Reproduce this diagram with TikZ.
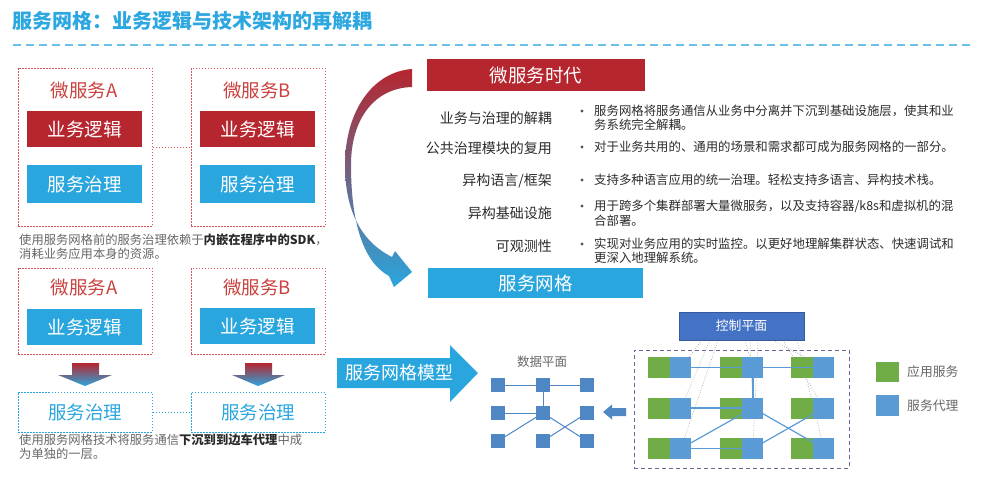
\documentclass[tikz,border=0pt]{standalone}
\usepackage{fontspec}
\setmainfont{Noto Sans CJK SC}
\usepackage{xcolor}
\usepackage{tikz}
\usetikzlibrary{positioning, backgrounds, arrows.meta}
\definecolor{meshred}{HTML}{B5262F}
\definecolor{meshblue}{HTML}{2AA6DE}
\definecolor{meshpurple}{HTML}{7A3A70}
\definecolor{meshtitle}{HTML}{2CA7E0}
\definecolor{meshredtext}{HTML}{C9413E}
\definecolor{meshframe}{HTML}{D4555B}
\definecolor{meshgreen}{HTML}{70AD47}
\definecolor{meshproxy}{HTML}{5B9BD5}
\definecolor{meshctrl}{HTML}{4472C4}
\definecolor{meshsquare}{HTML}{4F86C4}
\definecolor{meshgray}{HTML}{666666}
\definecolor{meshdark}{HTML}{2B2B2B}
\newcommand{\capbold}[1]{{\bfseries\color{meshdark}#1}}

\begin{document}
\begin{tikzpicture}[x=1pt, y=-1pt,
  svcframe/.style={rectangle, draw=meshframe, line width=1pt, dash pattern=on 1.5pt off 1.5pt, inner sep=0pt, minimum width=134, font=\fontsize{18.5}{22}\selectfont, text=meshredtext},
  logicbox/.style={rectangle, fill=meshred, text=white, minimum width=115, minimum height=36, inner sep=0pt, font=\fontsize{18.5}{22}\selectfont},
  govbox/.style={rectangle, fill=meshblue, text=white, minimum width=115, minimum height=38, inner sep=0pt, font=\fontsize{18.5}{22}\selectfont},
  govdash/.style={rectangle, draw=meshblue, line width=1pt, dash pattern=on 1.5pt off 1.5pt, text=meshblue, minimum width=134, minimum height=40, inner sep=0pt, font=\fontsize{18.5}{22}\selectfont},
  caption/.style={anchor=west, align=left, inner sep=0pt, text=meshgray, font=\fontsize{12.3}{13.5}\selectfont},
  band/.style={rectangle, text=white, minimum width=217, minimum height=31, inner sep=0pt, font=\fontsize{18.5}{22}\selectfont},
  aspect/.style={anchor=east, inner sep=0pt, text=meshdark, font=\fontsize{14}{16}\selectfont},
  bulletdot/.style={circle, fill=meshdark!80, minimum size=3.2, inner sep=0pt},
  bullettext/.style={anchor=west, align=left, inner sep=0pt, text=meshdark, font=\fontsize{12.4}{14.5}\selectfont},
  dpsq/.style={rectangle, fill=meshsquare, minimum size=13.5, inner sep=0pt},
  dpline/.style={meshsquare, line width=1pt},
  appbox/.style={rectangle, fill=meshgreen, minimum width=22, minimum height=21, inner sep=0pt},
  proxybox/.style={rectangle, fill=meshproxy, minimum width=21, minimum height=21, inner sep=0pt},
  meshline/.style={meshproxy, line width=1.2pt},
  ctrlline/.style={gray!70, line width=0.5pt, dash pattern=on 1pt off 1.5pt},
  legtext/.style={inner sep=0pt, text=meshgray, font=\fontsize{12.8}{15}\selectfont}
]
\useasboundingbox (0,0) rectangle (981,485);

% title
\node[anchor=west, inner sep=0pt, text=meshtitle, font=\fontsize{20}{24}\selectfont\bfseries] (title) at (12,21) {服务网格：业务逻辑与技术架构的再解耦};
\draw[meshtitle!70, line width=2pt, dash pattern=on 8pt off 5pt] (13,45) -- (970,45);

% before service mesh
\node[svcframe, minimum height=158] (fA) at (85,147) {};
\node[svcframe, minimum height=158] (fB) at (258,147) {};
\node[text=meshredtext, font=\fontsize{18.5}{22}\selectfont, inner sep=0pt] (nA) at (84,90) {微服务A};
\node[text=meshredtext, font=\fontsize{18.5}{22}\selectfont, inner sep=0pt] (nB) at (257,90) {微服务B};
\node[logicbox] (logA) at (84.5,129) {业务逻辑};
\node[logicbox] (logB) at (257.5,129) {业务逻辑};
\node[govbox] (govA) at (84.5,184) {服务治理};
\node[govbox] (govB) at (257.5,184) {服务治理};
\draw[meshframe, line width=1pt, dash pattern=on 1.5pt off 1.5pt] (logA.south -| fA.east) -- (logA.south -| fB.west);
\node[caption] (capA) at (19,246.5) {使用服务网格前的服务治理依赖于\capbold{内嵌在程序中的SDK}，\\消耗业务应用本身的资源。};

% with service mesh
\node[svcframe, minimum height=86] (fA2) at (85,311) {};
\node[svcframe, minimum height=86] (fB2) at (258,311) {};
\node[text=meshredtext, font=\fontsize{18.5}{22}\selectfont, inner sep=0pt] (nA2) at (84,287) {微服务A};
\node[text=meshredtext, font=\fontsize{18.5}{22}\selectfont, inner sep=0pt] (nB2) at (257,287) {微服务B};
\node[govbox, minimum height=36] (logA2) at (84.5,327) {业务逻辑};
\node[govbox, minimum height=36] (logB2) at (257.5,326) {业务逻辑};
\shade[top color=meshred, middle color=meshred!40!meshblue, bottom color=meshblue] (72,363) -- (99,363) -- (99,375) -- (112,375) -- (85,386) -- (58,375) -- (72,375) -- cycle;
\shade[top color=meshred, middle color=meshred!40!meshblue, bottom color=meshblue] (245,363) -- (272,363) -- (272,375) -- (285,375) -- (258,386) -- (232,375) -- (245,375) -- cycle;
\node[govdash] (gA2) at (85,412) {服务治理};
\node[govdash] (gB2) at (258,412) {服务治理};
\draw[meshblue, line width=1pt, dash pattern=on 1.5pt off 1.5pt] (gA2) -- (gB2);
\node[caption] (capB) at (19,446.5) {使用服务网格技术将服务通信\capbold{下沉到到边车代理}中成\\为单独的一层。};

% from microservices to service mesh
\node[band, fill=meshred, minimum width=218, minimum height=32] (era) at (536,75) {微服务时代};
\node[band, fill=meshblue, minimum width=215, minimum height=30] (meshband) at (535.5,283) {服务网格};
\shade[top color=meshred, middle color=meshpurple, bottom color=meshblue]
  (412,69) .. controls (372,72) and (345,112) .. (345,165)
  .. controls (345,212) and (362,242) .. (392,257)
  -- (395,251) -- (412,272) -- (394,287) -- (389,276)
  .. controls (363,262) and (351,222) .. (351,165)
  .. controls (351,118) and (375,88) .. (412,87) -- cycle;

\node[aspect] (s1) at (552,118) {业务与治理的解耦};
\node[aspect] (s2) at (552,148) {公共治理模块的复用};
\node[aspect] (s3) at (552,181) {异构语言/框架};
\node[aspect] (s4) at (552,213) {异构基础设施};
\node[aspect] (s5) at (552,246) {可观测性};
\node[bulletdot] (b1) at (582,111) {};
\node[bulletdot] (b2) at (582,147) {};
\node[bulletdot] (b3) at (582,180) {};
\node[bulletdot] (b4) at (582,206) {};
\node[bulletdot] (b5) at (582,244) {};
\node[bullettext] (t1) at (594,118) {服务网格将服务通信从业务中分离并下沉到基础设施层，使其和业\\务系统完全解耦。};
\node[bullettext] (t2) at (594,147) {对于业务共用的、通用的场景和需求都可成为服务网格的一部分。};
\node[bullettext] (t3) at (594,180) {支持多种语言应用的统一治理。轻松支持多语言、异构技术栈。};
\node[bullettext] (t4) at (594,213) {用于跨多个集群部署大量微服务，以及支持容器/k8s和虚拟机的混\\合部署。};
\node[bullettext] (t5) at (594,251) {实现对业务应用的实时监控。以更好地理解集群状态、快速调试和\\更深入地理解系统。};

% service mesh model
\fill[meshblue] (337,358) -- (450,358) -- (450,345) -- (478,373) -- (450,402) -- (450,388) -- (337,388) -- cycle;
\node[text=white, inner sep=0pt, font=\fontsize{18}{22}\selectfont] (model) at (399,373) {服务网格模型};

% data plane
\node[inner sep=0pt, text=meshgray, font=\fontsize{12.5}{15}\selectfont] (dplabel) at (542,362) {数据平面};
\foreach \r/\y in {1/385,2/413,3/441}
  \foreach \c/\x in {1/498,2/543,3/587}
    \node[dpsq] (d\r\c) at (\x,\y) {};
\foreach \u/\v in {11/12,12/13,12/22,21/22,31/22,22/33,32/23}
  \draw[dpline] (d\u) -- (d\v);
\fill[meshsquare] (626,408) -- (612,408) -- (612,404.5) -- (603,412) -- (612,419.5) -- (612,416) -- (626,416) -- cycle;

% control plane and sidecars
\node[rectangle, draw=meshctrl!80!black, fill=meshctrl, text=white, minimum width=125, minimum height=28, inner sep=0pt, font=\fontsize{12.8}{15}\selectfont] (ctrl) at (741.5,326) {控制平面};
\node[rectangle, draw=gray!80!blue, line width=1pt, dash pattern=on 4pt off 3pt, minimum width=215, minimum height=118, inner sep=0pt] (meshfr) at (741.5,409) {};
\foreach \r/\y in {1/367.5,2/408,3/448.5}
  \foreach \c/\x in {1/659,2/731,3/802}
  {
    \node[appbox] (a\r\c) at (\x,\y) {};
    \node[proxybox, right=0pt of a\r\c] (p\r\c) {};
  }
\begin{scope}[on background layer]
\foreach \sx/\pod in {702/11, 710/21, 718/31, 745/12, 750/22, 758/32, 773/13, 783/23, 797/33}
  \draw[ctrlline] (ctrl.south -| \sx,0) -- (p\pod.center);
\end{scope}
\foreach \u/\v in {11/12,12/13,12/22,21/22,31/22,22/33,23/32,31/32}
  \draw[meshline] (p\u.center) -- (p\v.center);

% legend
\node[appbox, minimum width=23, minimum height=20] (legapp) at (887.5,372) {};
\node[proxybox, minimum width=23, minimum height=21] (legproxy) at (887.5,405.5) {};
\node[legtext, anchor=west] (legappt) at (907,372) {应用服务};
\node[legtext, anchor=west] (legproxyt) at (907,405.5) {服务代理};
\end{tikzpicture}
\end{document}
